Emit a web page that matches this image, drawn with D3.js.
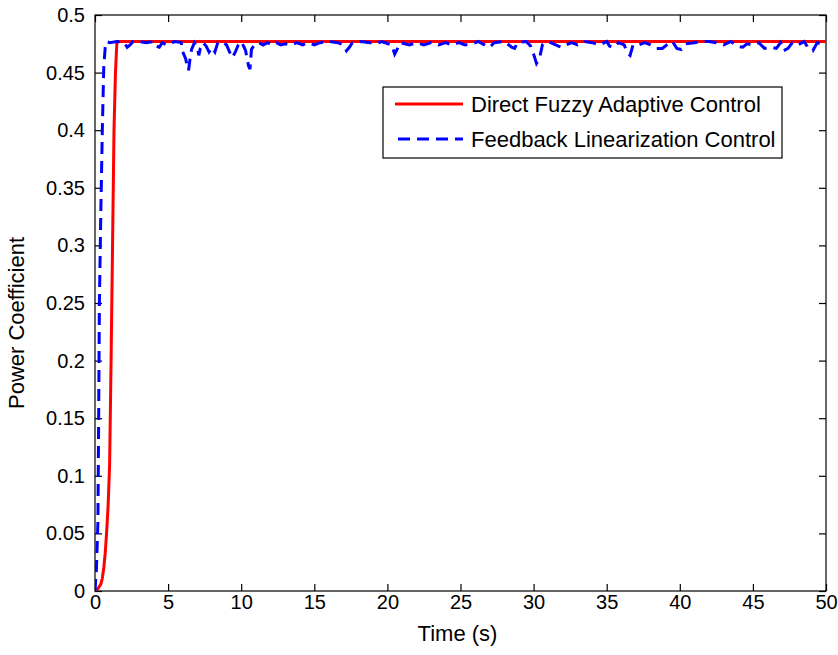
<!DOCTYPE html>
<html>
<head>
<meta charset="utf-8">
<script src="https://cdn.jsdelivr.net/npm/d3@7"></script>
<style>
  html, body { margin: 0; padding: 0; background: #fff; }
  svg text { font-family: "Liberation Sans", Arial, sans-serif; fill: #000; }
</style>
</head>
<body>
<svg id="chart" width="838" height="655"></svg>
<script>
// tick labels
const xTicks = [0, 5, 10, 15, 20, 25, 30, 35, 40, 45, 50];
const yTicks = [0, 0.05, 0.1, 0.15, 0.2, 0.25, 0.3, 0.35, 0.4, 0.45, 0.5];

// Direct Fuzzy Adaptive Control (red, solid)
const fuzzyT = [0, 0.2, 0.4, 0.5, 0.6, 0.7, 0.8, 0.9, 1.0, 1.1, 1.2, 1.3, 1.4, 1.5, 50];
const fuzzyV = [0, 0.002, 0.006, 0.011, 0.02, 0.033, 0.052, 0.075, 0.11, 0.2, 0.3, 0.4, 0.45, 0.477, 0.477];

// Feedback Linearization Control (blue, dashed)
const feedbackT = [
  0, 0.1, 0.2, 0.25, 0.3, 0.4, 0.5, 0.6, 0.7, 0.8,
  1.0, 1.5, 2.0, 2.2, 2.4, 2.6, 3.0, 3.5, 4.0, 4.2, 4.4, 4.6, 4.9, 5.2, 5.5, 5.9,
  6.0, 6.2, 6.3, 6.4, 6.5, 6.6, 6.8, 7.0, 7.1, 7.2, 7.4, 7.6, 7.8, 8.0, 8.2, 8.4, 8.7,
  9.0, 9.2, 9.4, 9.6, 9.8, 10.0, 10.2, 10.3, 10.5, 10.6, 10.7, 10.9, 11.2, 11.5, 11.8,
  12.1, 12.4, 12.7, 13.0, 13.4, 13.8, 14.2, 14.6, 15.0, 15.4, 16.0, 16.6, 17.0, 17.2,
  17.4, 17.6, 18.2, 18.8, 19.2, 19.6, 20.3, 20.5, 20.7, 20.9, 21.5, 22.0, 22.5, 23.0,
  23.5, 24.0, 24.4, 24.9, 25.3, 25.8, 26.2, 26.8, 27.0, 27.3, 28.0, 28.5, 28.7, 28.9,
  29.5, 29.8, 30.0, 30.2, 30.4, 30.6, 31.0, 31.7, 31.9, 32.2, 32.6, 33.0, 33.5, 34.0,
  34.5, 35.0, 35.2, 35.5, 35.8, 36.2, 36.4, 36.6, 36.8, 37.2, 37.6, 38.0, 38.4, 38.8,
  39.1, 39.5, 39.8, 40.1, 40.4, 41.0, 41.5, 42.0, 42.5, 43.0, 43.5, 43.9, 44.3, 44.6,
  45.0, 45.4, 45.8, 46.2, 46.6, 46.9, 47.1, 47.4, 47.7, 48.1, 48.5, 48.8, 49.1, 49.4, 50
];
const feedbackV = [
  0, 0.02, 0.06, 0.15, 0.25, 0.33, 0.4, 0.455, 0.472, 0.477,
  0.476, 0.477, 0.476, 0.472, 0.474, 0.477, 0.477, 0.476, 0.477, 0.473, 0.472, 0.476, 0.474, 0.476, 0.477, 0.476,
  0.468, 0.462, 0.456, 0.452, 0.462, 0.470, 0.476, 0.472, 0.465, 0.471, 0.476, 0.473, 0.468, 0.472, 0.468, 0.476, 0.477,
  0.474, 0.468, 0.463, 0.468, 0.474, 0.477, 0.472, 0.469, 0.456, 0.453, 0.470, 0.474, 0.476, 0.474, 0.476,
  0.474, 0.476, 0.474, 0.475, 0.474, 0.476, 0.474, 0.476, 0.474, 0.476, 0.477, 0.476, 0.474, 0.469,
  0.472, 0.476, 0.477, 0.476, 0.475, 0.477, 0.474, 0.466, 0.471, 0.476, 0.474, 0.476, 0.474, 0.476,
  0.474, 0.476, 0.474, 0.476, 0.474, 0.475, 0.477, 0.473, 0.472, 0.476, 0.477, 0.472, 0.471, 0.476,
  0.477, 0.473, 0.466, 0.458, 0.462, 0.474, 0.477, 0.473, 0.472, 0.474, 0.476, 0.474, 0.477, 0.476,
  0.474, 0.477, 0.473, 0.472, 0.476, 0.474, 0.467, 0.465, 0.474, 0.474, 0.476, 0.474, 0.471, 0.471,
  0.474, 0.477, 0.471, 0.470, 0.475, 0.476, 0.477, 0.477, 0.476, 0.474, 0.477, 0.473, 0.472, 0.475,
  0.474, 0.476, 0.471, 0.472, 0.471, 0.476, 0.469, 0.471, 0.476, 0.474, 0.477, 0.471, 0.469, 0.476, 0.474
];

const seriesNames = ['Direct Fuzzy Adaptive Control', 'Feedback Linearization Control'];

const margin = { left: 95, right: 12, top: 15, bottom: 64 };
const width = 838, height = 655;

const svg = d3.select('#chart');

const x = d3.scaleLinear().domain([0, 50]).range([margin.left, width - margin.right]);
const y = d3.scaleLinear().domain([0, 0.5]).range([height - margin.bottom, margin.top]);

const fmt = d => d === 0 ? '0' : String(+d.toFixed(2));
const tickLen = 7;

// box
svg.append('rect')
  .attr('x', x(0)).attr('y', y(0.5))
  .attr('width', x(50) - x(0)).attr('height', y(0) - y(0.5))
  .attr('fill', '#fff').attr('stroke', '#000').attr('stroke-width', 1.2);

// ticks pointing inward on all four sides
svg.append('g')
  .attr('transform', `translate(0,${y(0)})`)
  .call(d3.axisBottom(x).tickValues(xTicks).tickSize(-tickLen).tickPadding(4).tickFormat(fmt))
  .call(g => g.select('.domain').remove());
svg.append('g')
  .attr('transform', `translate(0,${y(0.5)})`)
  .call(d3.axisTop(x).tickValues(xTicks).tickSize(-tickLen).tickFormat(''))
  .call(g => g.select('.domain').remove());
svg.append('g')
  .attr('transform', `translate(${x(0)},0)`)
  .call(d3.axisLeft(y).tickValues(yTicks).tickSize(-tickLen).tickPadding(tickLen + 3).tickFormat(fmt))
  .call(g => g.select('.domain').remove());
svg.append('g')
  .attr('transform', `translate(${x(50)},0)`)
  .call(d3.axisRight(y).tickValues(yTicks).tickSize(-tickLen).tickFormat(''))
  .call(g => g.select('.domain').remove());

svg.selectAll('.tick line').attr('stroke', '#000').attr('stroke-width', 1.2);
svg.selectAll('.tick text').attr('font-size', 20).attr('font-family', '"Liberation Sans", Arial, sans-serif').attr('fill', '#333');

const line = d3.line().x(d => x(d[0])).y(d => y(d[1]));

svg.append('clipPath').attr('id', 'plotclip').append('rect')
  .attr('x', x(0)).attr('y', y(0.5) - 2).attr('width', x(50) - x(0)).attr('height', y(0) - y(0.5) + 2);

const plot = svg.append('g').attr('clip-path', 'url(#plotclip)');

plot.append('path')
  .datum(fuzzyT.map((t, i) => [t, fuzzyV[i]]))
  .attr('d', line)
  .attr('fill', 'none').attr('stroke', '#ff0000').attr('stroke-width', 3);

plot.append('path')
  .datum(feedbackT.map((t, i) => [t, feedbackV[i]]))
  .attr('d', line)
  .attr('fill', 'none').attr('stroke', '#0000ff').attr('stroke-width', 3)
  .attr('stroke-dasharray', '12,7');

// axis labels
svg.append('text')
  .attr('x', (x(0) + x(50)) / 2 - 3).attr('y', 641)
  .attr('text-anchor', 'middle').attr('font-size', 22).attr('fill', '#333')
  .text('Time (s)');
svg.append('text')
  .attr('transform', `translate(24,323) rotate(-90)`)
  .attr('text-anchor', 'middle').attr('font-size', 22).attr('fill', '#333')
  .text('Power Coefficient');

// legend
const legend = svg.append('g').attr('transform', 'translate(383,87)');
legend.append('rect')
  .attr('width', 399).attr('height', 71)
  .attr('fill', '#fff').attr('stroke', '#000').attr('stroke-width', 1.2);
const rows = legend.selectAll('g.row').data(seriesNames).join('g')
  .attr('class', 'row')
  .attr('transform', (d, i) => `translate(0,${17 + i * 35})`);
rows.append('line')
  .attr('x1', 12).attr('x2', 80).attr('y1', 0).attr('y2', 0)
  .attr('stroke', (d, i) => i === 0 ? '#ff0000' : '#0000ff')
  .attr('stroke-width', 3)
  .attr('stroke-dasharray', (d, i) => i === 0 ? null : '12,7')
  .attr('stroke-dashoffset', (d, i) => i === 0 ? null : -3);
rows.append('text')
  .attr('x', 88).attr('y', 0).attr('dy', '0.35em')
  .attr('font-size', 22).attr('fill', '#222')
  .text(d => d);
</script>
</body>
</html>
